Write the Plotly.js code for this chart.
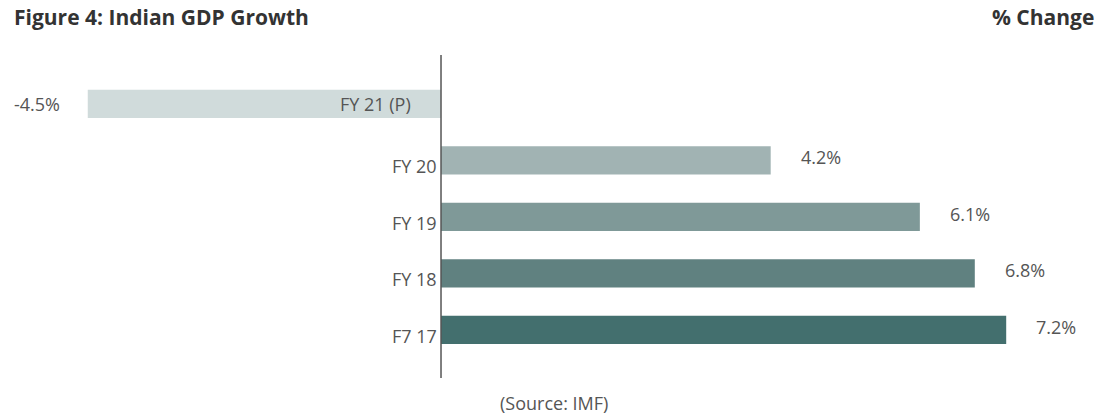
<!DOCTYPE html>
<html><head><meta charset="utf-8">
<script src="https://cdn.plot.ly/plotly-3.0.1.min.js"></script>
<style>body{margin:0;background:#fff}#c{width:1096px;height:418px}</style>
</head><body><div id="c"></div>
<script>
const categories = ["FY 21 (P)", "FY 20", "FY 19", "FY 18", "F7 17"];
const values = [-4.5, 4.2, 6.1, 6.8, 7.2];
const valueLabels = ["-4.5%", "4.2%", "6.1%", "6.8%", "7.2%"];
const colors = ["#d0dbdb", "#a1b3b3", "#7f9998", "#608180", "#436f6e"];

const FONT = "'Open Sans', Lato, sans-serif";
const annotations = [];
categories.forEach((c, i) => {
  const inside = values[i] < 0;
  annotations.push({
    x: 0, y: c, xref: "x", yref: "y", text: c, showarrow: false,
    xanchor: "right", yanchor: "middle", xshift: inside ? -28 : -2, yshift: inside ? 0 : -6,
    font: {family: FONT, size: 18, color: "#555"}
  });
  annotations.push({
    x: values[i], y: c, xref: "x", yref: "y", text: valueLabels[i], showarrow: false,
    xanchor: values[i] < 0 ? "right" : "left", yanchor: "middle",
    xshift: values[i] < 0 ? -26 : 28, yshift: values[i] < 0 ? 0 : 3,
    font: {family: FONT, size: 18, color: "#555"}
  });
});
annotations.push({xref: "paper", yref: "paper", x: 0, y: 1, xanchor: "left", yanchor: "bottom",
  text: "<b>Figure 4: Indian GDP Growth</b>", showarrow: false, xshift: 12, yshift: 22,
  font: {family: FONT, size: 21, color: "#333"}});
annotations.push({xref: "paper", yref: "paper", x: 1, y: 1, xanchor: "right", yanchor: "bottom",
  text: "<b>% Change</b>", showarrow: false, xshift: 0, yshift: 22,
  font: {family: FONT, size: 21, color: "#333"}});
annotations.push({xref: "x", yref: "paper", x: 0, y: 0, xanchor: "center", yanchor: "top",
  text: "(Source: IMF)", showarrow: false, xshift: 113, yshift: -11,
  font: {family: FONT, size: 18, color: "#555"}});

Plotly.newPlot("c", [{
  type: "bar", orientation: "h", y: categories, x: values,
  marker: {color: colors}, width: 0.5, hoverinfo: "none"
}], {
  width: 1096, height: 418,
  margin: {l: 0, r: 0, t: 55, b: 40},
  paper_bgcolor: "#fff", plot_bgcolor: "#fff",
  showlegend: false,
  xaxis: {range: [-5.618, 8.344], showgrid: false, zeroline: false, showticklabels: false, fixedrange: true},
  yaxis: {type: "category", categoryarray: categories, range: [4.85, -0.867], showgrid: false,
          zeroline: false, showticklabels: false, fixedrange: true},
  shapes: [{type: "line", xref: "x", yref: "paper", x0: 0, x1: 0, y0: 0, y1: 1,
            line: {color: "#555", width: 1.5}}],
  annotations: annotations
}, {displayModeBar: false, staticPlot: true});
</script></body></html>
